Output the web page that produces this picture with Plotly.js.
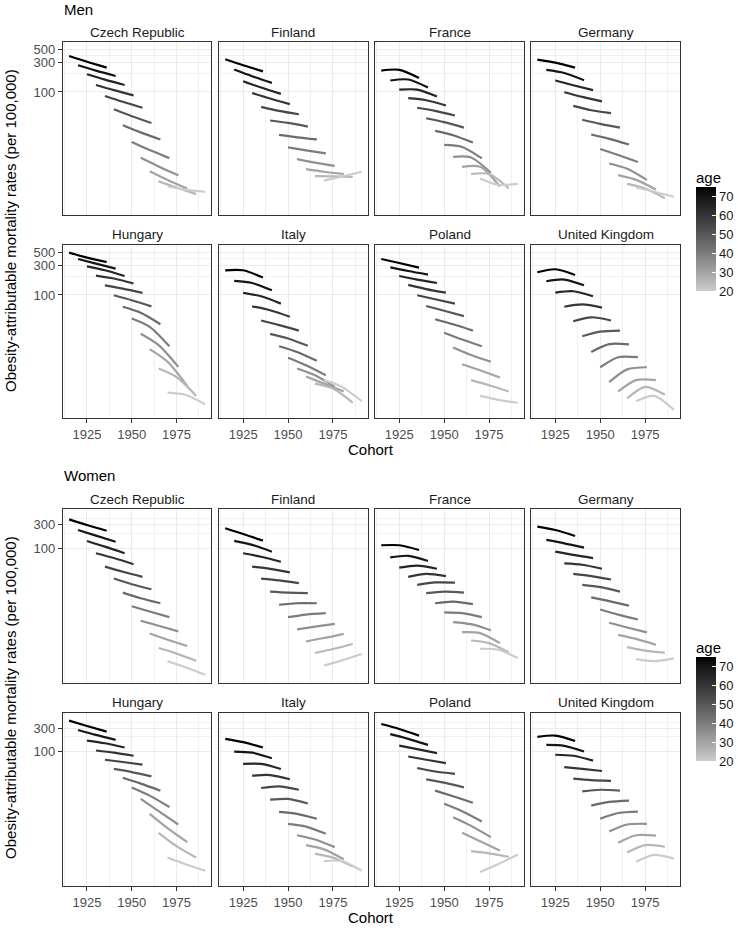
<!DOCTYPE html>
<html><head><meta charset="utf-8">
<script src="https://cdn.plot.ly/plotly-3.0.1.min.js"></script>
<style>html,body{margin:0;padding:0;background:#fff}#chart{width:738px;height:932px}</style>
</head><body><div id="chart"></div>
<script>
// ---------------- DATA ----------------
const countries = ["Czech Republic","Finland","France","Germany","Hungary","Italy","Poland","United Kingdom"];
const ages = [75,70,65,60,55,50,45,40,35,30,25,20];
const periods = [1990, 2000, 2011];   // cohort = period - age
const xTicks = [1925, 1950, 1975];
const menYTicks = [100, 300, 500];
const womenYTicks = [100, 300];
const ageTicks = [20, 30, 40, 50, 60, 70];

// Men: rates per 100,000 at periods (start, middle, end) for ages 75..20
const menCzech   = [[389,313,251],[274,224,183],[195,159,130],[130,107,88],[86,69,55],[52,40,31],[28.5,21.7,16.6],[15.1,11.1,8.2],[8.3,6.0,4.3],[5.0,3.6,2.6],[3.4,2.7,2.1],[2.8,2.5,2.3]];
const menFinland = [[344,275,218],[233,181,141],[150,118,93],[96,78,63],[57,49,43],[34,31,27],[19.7,18,16.6],[12.3,11,9.8],[7.9,6.9,6.1],[5.4,4.9,4.5],[4.15,4.1,4.05],[3.5,4.1,4.9]];
const menFrance  = [[224,231,170],[154,160,118],[109,109,84],[79,73,60],[55,49,41],[37,32,26],[23,19.5,14.8],[13.5,12.5,8.1],[8.6,8.4,4.7],[5.9,5.9,2.8],[4.5,4.5,2.6],[3.8,3.0,3.1]];
const menGermany = [[340,303,251],[230,205,156],[154,129,107],[99,83,70],[59,50,45],[35,30,26],[20,17,13.7],[11.6,9.2,7.1],[6.7,5.5,3.6],[4.3,3.6,2.5],[3.1,2.6,1.8],[2.7,2.3,1.9]];
const menHungary = [[495,410,348],[389,327,271],[295,254,205],[208,186,154],[144,127,108],[99,82,65],[64,51,33],[41,30,14.4],[23,15,6.6],[12.9,8.0,3.2],[6.2,4.5,2.2],[2.5,2.3,1.6]];
const menItaly   = [[254,254,193],[170,157,119],[108,95,72],[65,56,44],[38,32,26],[23,19.3,14.6],[14.4,11.6,8.3],[9.3,7.0,4.8],[6.2,4.8,3.1],[4.6,3.5,2.6],[3.5,2.9,1.7],[4.0,3.1,1.8]];
const menPoland  = [[389,335,281],[284,247,216],[205,179,157],[146,125,109],[99,85,72],[66,55,45],[40,33,26],[24,18.6,14.4],[13.7,10.3,8.0],[7.3,5.8,4.4],[4.0,3.3,2.6],[2.2,1.9,1.7]];
const menUK      = [[236,264,213],[168,179,144],[109,115,95],[64,70,62],[37,43,38],[21,25,26],[11.6,15.6,15.4],[6.5,9.5,9.5],[3.7,6.0,6.5],[2.6,4.0,4.0],[2.0,3.1,2.3],[1.8,2.2,1.3]];

// Women
const womenCzech   = [[389,298,228],[236,181,136],[141,108,79],[79,63,47],[42,33,26],[24,18.4,14.5],[12.4,9.5,7.5],[6.5,5.1,3.9],[3.3,2.6,2.0],[1.8,1.35,1.0],[0.91,0.70,0.50],[0.49,0.37,0.26]];
const womenFinland = [[256,196,143],[141,117,85],[79,67,53],[42,38,32],[24,22,19.3],[13,12.4,12.1],[7.0,7.5,7.5],[3.9,4.4,4.7],[2.2,2.5,2.85],[1.24,1.46,1.78],[0.72,0.87,1.1],[0.40,0.51,0.69]];
const womenFrance  = [[115,115,92],[65,70,55],[40,44,38],[26,30,27],[17.8,20,19.9],[12.1,13,12.4],[7.5,8.1,7.2],[4.9,4.7,3.9],[3.1,2.8,2.1],[1.93,1.84,1.15],[1.3,1.15,0.74],[0.88,0.84,0.57]];
const womenGermany = [[276,236,178],[148,126,103],[85,73,63],[49,46,38],[30,27,23],[17.8,16,13],[9.9,8.3,6.7],[5.6,4.4,3.5],[3.0,2.4,1.9],[1.7,1.4,1.06],[0.95,0.81,0.73],[0.54,0.49,0.56]];
const womenHungary = [[430,334,256],[277,219,173],[168,148,121],[105,95,82],[68,61,54],[44,38,31],[29,22,15.8],[18.4,12.5,7.3],[10.7,6.0,3.2],[5.3,2.7,1.39],[2.16,1.15,0.67],[0.67,0.49,0.36]];
const womenItaly   = [[182,156,121],[100,95,73],[56,56,44],[32,33,27],[17.9,19.3,16.5],[10.3,10.7,8.6],[5.8,5.3,4.2],[3.3,2.9,2.06],[1.93,1.58,1.1],[1.21,0.99,0.62],[0.81,0.67,0.44],[0.57,0.57,0.36]];
const womenPoland  = [[367,290,212],[227,182,137],[132,112,93],[79,68,58],[46,39,35],[27,23,18.4],[15.8,12.1,8.9],[8.5,6.0,3.7],[4.5,3.0,1.76],[2.16,1.46,0.94],[0.91,0.82,0.70],[0.34,0.49,0.78]];
const womenUK      = [[200,212,165],[137,131,100],[86,82,65],[48,44,40],[28,26,25],[15.3,16.5,15.8],[7.8,9.3,9.9],[4.2,5.5,5.9],[2.3,3.2,3.3],[1.35,1.93,1.9],[0.85,1.21,1.12],[0.55,0.76,0.64]];

const menData = [menCzech, menFinland, menFrance, menGermany, menHungary, menItaly, menPoland, menUK];
const womenData = [womenCzech, womenFinland, womenFrance, womenGermany, womenHungary, womenItaly, womenPoland, womenUK];

// ---------------- LAYOUT GEOMETRY ----------------
const W = 738, H = 932;
const FONT = "Liberation Sans, Arial, Helvetica, sans-serif";
const cols = [[63,212],[219.5,369],[376,525.5],[532.5,682]];
const menRows = [[42,215],[245,418]];
const womenRows = [[509.3,683],[712.7,886]];
const xRange = [1911.5, 1994.5];
const menYRange = [-0.02, 2.82];
const womenYRange = [-0.755, 2.796];

// ggplot-like grey gradient (Lab lightness interpolation, black -> grey80)
function ageColor(a){
  const t = (a-20)/55;
  const L = 82*(1-t);
  const Y = L > 8 ? Math.pow((L+16)/116,3) : L/903.3;
  const s = Y <= 0.0031308 ? 12.92*Y : 1.055*Math.pow(Y,1/2.4)-0.055;
  const v = Math.max(0, Math.min(255, Math.round(s*255)));
  return `rgb(${v},${v},${v})`;
}
const colorscale = [];
for (let i=0;i<=11;i++){ const a = 20 + 55*i/11; colorscale.push([i/11, ageColor(a)]); }

const traces = [];
const layout = {
  width: W, height: H,
  margin: {l:0,r:0,t:0,b:0},
  paper_bgcolor: "#fff", plot_bgcolor: "#fff",
  showlegend: false,
  font: {family: FONT, color: "#1a1a1a"},
  annotations: []
};

function px2x(p){ return p/W; }
function px2y(p){ return 1 - p/H; }

function addGroup(data, rows, yRange, yTicks, startIdx){
  for (let p=0;p<8;p++){
    const k = startIdx + p;
    const r = Math.floor(p/4), c = p%4;
    const xs = k===1 ? "" : String(k);
    const [x0,x1] = cols[c];
    const [y0,y1] = rows[r];
    const bottom = r===1, left = c===0;
    layout["xaxis"+xs] = {
      domain: [px2x(x0), px2x(x1)], range: xRange, anchor: "y"+xs,
      tickvals: xTicks, showticklabels: bottom,
      ticks: bottom ? "outside" : "", ticklen: 4, tickcolor: "#333", tickwidth: 1,
      tickfont: {size: 13, color: "#4d4d4d", family: FONT},
      showgrid: true, gridcolor: "#ebebeb", gridwidth: 1,
      minor: {tickvals: [1912.5,1937.5,1962.5,1987.5], showgrid: true, gridcolor: "#f1f1f1", gridwidth: 1, ticks: ""},
      showline: true, mirror: true, linecolor: "#333", linewidth: 1, zeroline: false, fixedrange: true
    };
    layout["yaxis"+xs] = {
      domain: [px2y(y1), px2y(y0)], type: "log", range: yRange, anchor: "x"+xs,
      tickvals: yTicks, ticktext: yTicks.map(String), showticklabels: left,
      ticks: left ? "outside" : "", ticklen: 4, tickcolor: "#333", tickwidth: 1,
      tickfont: {size: 13, color: "#4d4d4d", family: FONT},
      showgrid: true, gridcolor: "#ebebeb", gridwidth: 1,
      minor: {tickvals: [200,400], showgrid: true, gridcolor: "#f1f1f1", gridwidth: 1, ticks: ""},
      showline: true, mirror: true, linecolor: "#333", linewidth: 1, zeroline: false, fixedrange: true
    };
    const series = data[p];
    ages.forEach((a,i)=>{
      traces.push({
        type: "scatter", mode: "lines",
        x: periods.map(pr => pr - a), y: series[i],
        xaxis: "x"+xs, yaxis: "y"+xs,
        line: {color: ageColor(a), width: 2.2, shape: "spline", smoothing: 0.8},
        hoverinfo: "skip"
      });
    });
    layout.annotations.push({
      text: countries[p], xref: "paper", yref: "paper",
      x: px2x((x0+x1)/2), y: px2y(y0-10), xanchor: "center", yanchor: "middle",
      showarrow: false, font: {size: 13.5, color: "#1a1a1a", family: FONT}
    });
  }
}
addGroup(menData, menRows, menYRange, menYTicks, 1);
addGroup(womenData, womenRows, womenYRange, womenYTicks, 9);

// group titles & axis titles
const ann = layout.annotations;
ann.push({text:"Men", xref:"paper", yref:"paper", x:px2x(62), y:px2y(9), xanchor:"left", yanchor:"middle", showarrow:false, font:{size:15, color:"#000", family:FONT}});
ann.push({text:"Women", xref:"paper", yref:"paper", x:px2x(62), y:px2y(475), xanchor:"left", yanchor:"middle", showarrow:false, font:{size:15, color:"#000", family:FONT}});
ann.push({text:"Cohort", xref:"paper", yref:"paper", x:px2x(372.5), y:px2y(449), xanchor:"center", yanchor:"middle", showarrow:false, font:{size:15, color:"#000", family:FONT}});
ann.push({text:"Cohort", xref:"paper", yref:"paper", x:px2x(372.5), y:px2y(917), xanchor:"center", yanchor:"middle", showarrow:false, font:{size:15, color:"#000", family:FONT}});
const ytitle = "Obesity-attributable mortality rates (per 100,000)";
ann.push({text:ytitle, xref:"paper", yref:"paper", x:px2x(10), y:px2y(230), xanchor:"center", yanchor:"middle", textangle:-90, showarrow:false, font:{size:15, color:"#000", family:FONT}});
ann.push({text:ytitle, xref:"paper", yref:"paper", x:px2x(10), y:px2y(697), xanchor:"center", yanchor:"middle", textangle:-90, showarrow:false, font:{size:15, color:"#000", family:FONT}});
// legend titles
ann.push({text:"age", xref:"paper", yref:"paper", x:px2x(696), y:px2y(178), xanchor:"left", yanchor:"middle", showarrow:false, font:{size:15, color:"#000", family:FONT}});
ann.push({text:"age", xref:"paper", yref:"paper", x:px2x(696), y:px2y(647), xanchor:"left", yanchor:"middle", showarrow:false, font:{size:15, color:"#000", family:FONT}});

// colour bars (age legend)
function colorbarTrace(xs, topPx){
  return {
    type:"scatter", mode:"markers", x:[1800], y:[1], xaxis:"x"+xs, yaxis:"y"+xs,
    hoverinfo:"skip",
    marker:{
      color:[20], cmin:20, cmax:75, colorscale: colorscale, showscale:true, opacity:0, size:1,
      colorbar:{
        x: px2x(698), xanchor:"left", y: px2y(topPx), yanchor:"top",
        len: 104, lenmode:"pixels", thickness: 20, thicknessmode:"pixels",
        xpad:0, ypad:0, outlinewidth:0,
        tickvals: ageTicks, ticks:"inside", ticklen:4, tickcolor:"#fff", tickwidth:1,
        tickfont:{size:13, color:"#1a1a1a", family:FONT}
      }
    }
  };
}
traces.push(colorbarTrace("", 187));
traces.push(colorbarTrace("9", 657));

Plotly.newPlot("chart", traces, layout, {staticPlot:true, displayModeBar:false});
</script>
</body></html>
